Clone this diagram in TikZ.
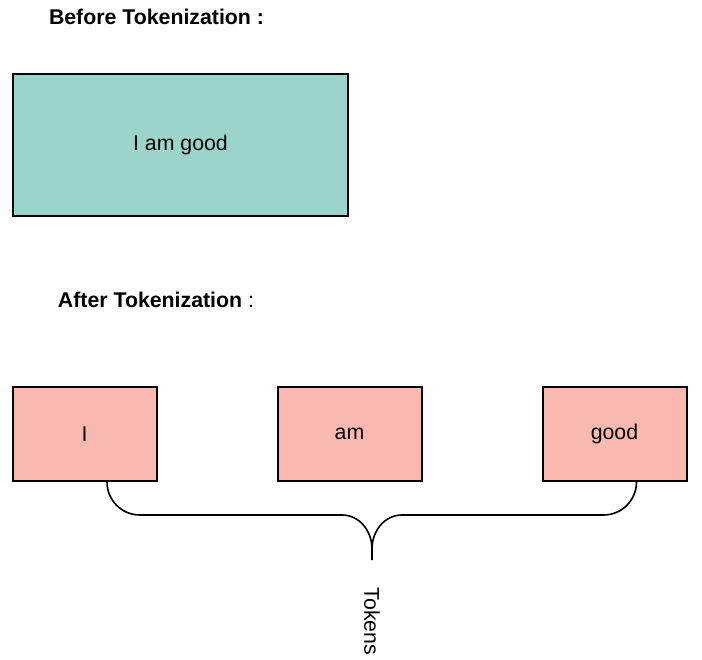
\documentclass[tikz,border=0pt]{standalone}
\usepackage{fontspec}
\setmainfont{Liberation Sans}
\usetikzlibrary{positioning}
\definecolor{SentClr}{rgb}{0.604,0.831,0.792}
\definecolor{TokClr}{rgb}{0.98,0.725,0.69}

\begin{document}
\begin{tikzpicture}[x=1pt,y=-1pt,
  heading/.style={font=\fontsize{21.3}{25}\selectfont},
  sentbox/.style={draw=black,line width=2pt,fill=SentClr,minimum width=335pt,minimum height=142pt,
    font=\fontsize{21.3}{25}\selectfont},
  tokbox/.style={draw=black,line width=2pt,fill=TokClr,minimum width=144pt,minimum height=94pt,
    font=\fontsize{21.3}{25}\selectfont},
  brace/.style={draw=black,line width=1.6pt}]
\useasboundingbox (0,0) rectangle (702,660);

\node[heading] (before) at (156.5,17) {\bfseries Before Tokenization :};
\node[sentbox] (sent) at (180.5,145) {I am good};

\node[heading] (after) at (156,300) {{\bfseries After Tokenization} :};

\node[tokbox] (tokI) at (84.5,434) {I};
\node[tokbox,right=119pt of tokI] (tokAm) {am};
\node[tokbox,right=119pt of tokAm] (tokGood) {good};

% brace under the tokens
\coordinate (mid) at (372,515);
\coordinate (cusp) at (372,549);
\coordinate (tip) at (372,560);
\draw[brace] ([xshift=22.5pt]tokI.south) to[out=-90,in=180] ++(33,33)
  -- ([xshift=-30pt]mid) to[out=0,in=90] (cusp) -- (tip);
\draw[brace] ([xshift=22pt]tokGood.south) to[out=-90,in=0] ++(-33,33)
  -- ([xshift=30pt]mid) to[out=180,in=90] (cusp);

\node[font=\fontsize{21.3}{25}\selectfont,rotate=-90,anchor=west] (tokLbl) at (372,584) {Tokens};
\end{tikzpicture}
\end{document}
